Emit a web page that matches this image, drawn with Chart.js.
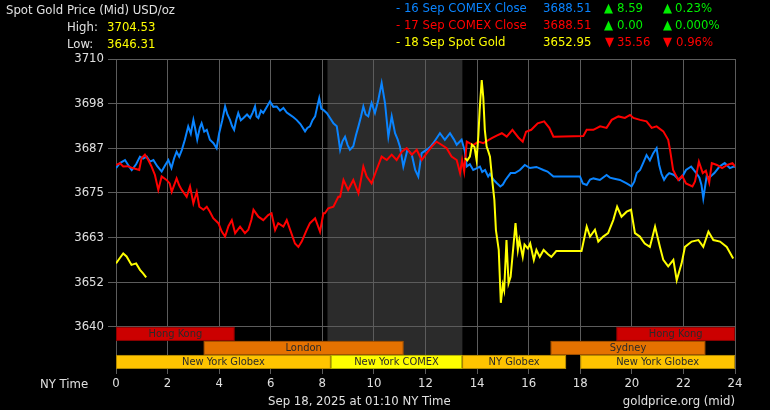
<!DOCTYPE html>
<html>
<head>
<meta charset="utf-8">
<script src="https://cdn.jsdelivr.net/npm/chart.js@4.4.1/dist/chart.umd.min.js"></script>
<style>
  html, body { margin: 0; padding: 0; background: #000; }
  #wrap { position: relative; width: 770px; height: 410px; overflow: hidden;
    font-family: "DejaVu Sans Condensed", "DejaVu Sans", sans-serif; font-size: 13px; color: #e0e0e0; }
  canvas { position: absolute; left: 0; top: 0; }
  .t { position: absolute; white-space: nowrap; line-height: 1; }
  .blue { color: #0a84ff; } .red { color: #ff0000; } .yel { color: #ffff00; } .grn { color: #00ee00; }
</style>
</head>
<body>
<div id="wrap">
  <canvas id="chart-gold" width="770" height="410"></canvas>
  <div class="t" style="left:6px;top:2.5px">Spot Gold Price (Mid) USD/oz</div>
  <div class="t" style="left:67px;top:19.5px">High:</div>
  <div class="t yel" style="left:107px;top:19.5px">3704.53</div>
  <div class="t" style="left:67px;top:36.5px">Low:</div>
  <div class="t yel" style="left:107px;top:36.5px">3646.31</div>

  <div class="t blue" style="left:396px;top:0.5px">- 16 Sep COMEX Close</div>
  <div class="t blue" style="left:543px;top:0.5px">3688.51</div>
  <div class="t grn" style="left:604px;top:0.5px">▲</div>
  <div class="t grn" style="left:617px;top:0.5px">8.59</div>
  <div class="t grn" style="left:663px;top:0.5px">▲</div>
  <div class="t grn" style="left:675px;top:0.5px">0.23%</div>

  <div class="t red" style="left:396px;top:17.5px">- 17 Sep COMEX Close</div>
  <div class="t red" style="left:543px;top:17.5px">3688.51</div>
  <div class="t grn" style="left:604px;top:17.5px">▲</div>
  <div class="t grn" style="left:617px;top:17.5px">0.00</div>
  <div class="t grn" style="left:663px;top:17.5px">▲</div>
  <div class="t grn" style="left:675px;top:17.5px">0.000%</div>

  <div class="t yel" style="left:396px;top:34.5px">- 18 Sep Spot Gold</div>
  <div class="t yel" style="left:543px;top:34.5px">3652.95</div>
  <div class="t red" style="left:605px;top:34.5px">▼</div>
  <div class="t red" style="left:617px;top:34.5px">35.56</div>
  <div class="t red" style="left:663px;top:34.5px">▼</div>
  <div class="t red" style="left:676px;top:34.5px">0.96%</div>

  <div class="t" style="left:40px;top:376.5px">NY Time</div>
  <div class="t" style="left:268px;top:393.5px">Sep 18, 2025 at 01:10 NY Time</div>
  <div class="t" style="right:35px;top:393.5px">goldprice.org (mid)</div>
</div>
<script>
// 16 Sep COMEX close series (blue)
const sep16Hours = [0, 0.15, 0.35, 0.5, 0.61, 0.78, 0.93, 1.05, 1.19, 1.32, 1.45, 1.6, 1.77, 1.9, 2.03, 2.15, 2.25, 2.35, 2.45, 2.55,
  2.67, 2.8, 2.9, 3.0, 3.08, 3.15, 3.25, 3.32, 3.42, 3.52, 3.64, 3.78, 3.9, 4.0, 4.12, 4.23, 4.32, 4.42, 4.5, 4.58,
  4.66, 4.74, 4.84, 4.94, 5.08, 5.2, 5.3, 5.39, 5.45, 5.52, 5.62, 5.71, 5.85, 5.97, 6.1, 6.23, 6.36, 6.49, 6.62, 6.75,
  6.88, 7.0, 7.15, 7.33, 7.42, 7.52, 7.62, 7.72, 7.8, 7.88, 7.96, 8.04, 8.17, 8.3, 8.43, 8.56, 8.62, 8.69, 8.78, 8.88,
  8.98, 9.07, 9.2, 9.3, 9.4, 9.5, 9.59, 9.68, 9.78, 9.85, 9.91, 10.04, 10.17, 10.3, 10.43, 10.56, 10.69, 10.82, 10.92, 11.01,
  11.14, 11.3, 11.47, 11.6, 11.72, 11.85, 12.05, 12.18, 12.3, 12.45, 12.56, 12.75, 12.95, 13.1, 13.21, 13.4, 13.52, 13.6, 13.72, 13.85,
  14.0, 14.11, 14.2, 14.31, 14.43, 14.5, 14.63, 14.76, 14.9, 15.0, 15.1, 15.3, 15.47, 15.66, 15.85, 16.05, 16.3, 16.57, 16.73, 16.96, 17.99,
  18.1, 18.25, 18.38, 18.51, 18.76, 19.02, 19.15, 19.28, 19.54, 19.8, 19.99, 20.1, 20.19, 20.32, 20.45, 20.57, 20.7, 20.83, 20.96, 21.06,
  21.15, 21.25, 21.35, 21.45, 21.64, 21.84, 22.0, 22.1, 22.3, 22.5, 22.62, 22.7, 22.77, 22.9, 23.0, 23.2, 23.4, 23.6, 23.8, 23.95, 24];
const sep16Prices = [3681.5, 3682.8, 3683.6, 3682.0, 3681.0, 3682.5, 3684.5, 3684.0, 3684.5, 3683.2, 3683.6, 3682.0, 3680.6, 3682.2, 3683.6, 3681.5, 3684.0, 3685.8, 3684.5, 3686.2,
  3688.9, 3692.4, 3690.5, 3694.1, 3691.5, 3688.9, 3692.0, 3693.2, 3691.0, 3691.5, 3688.9, 3688.0, 3686.7, 3690.6, 3694.0, 3697.6, 3695.5, 3694.1, 3692.5, 3691.5,
  3694.0, 3695.9, 3694.0, 3694.6, 3695.5, 3694.6, 3696.0, 3697.6, 3695.0, 3694.6, 3696.5, 3695.9, 3697.5, 3698.9, 3697.5, 3697.6, 3696.5, 3697.2, 3696.0, 3695.4,
  3694.8, 3694.1, 3693.0, 3691.1, 3692.0, 3692.4, 3694.0, 3695.0, 3697.5, 3699.8, 3697.0, 3696.7, 3695.9, 3694.6, 3693.2, 3692.4, 3689.7, 3686.3, 3688.5, 3689.7,
  3687.5, 3686.3, 3687.2, 3690.0, 3692.4, 3695.0, 3697.6, 3695.5, 3695.0, 3697.0, 3698.5, 3695.9, 3699.3, 3703.7, 3698.5, 3689.7, 3695.0, 3690.6, 3689.0, 3687.1,
  3681.9, 3686.3, 3685.0, 3681.0, 3679.3, 3685.4, 3686.3, 3687.0, 3688.0, 3689.5, 3690.6, 3688.9, 3690.6, 3689.0, 3687.6, 3688.9, 3686.0, 3681.9, 3682.5, 3681.0,
  3681.5, 3681.9, 3680.5, 3681.0, 3679.3, 3680.0, 3678.5, 3677.6, 3676.7, 3677.2, 3678.4, 3680.2, 3680.2, 3681.0, 3682.3, 3681.5, 3681.8, 3681.0, 3680.6, 3679.3, 3679.3,
  3677.5, 3677.1, 3678.5, 3678.8, 3678.4, 3679.7, 3679.0, 3678.8, 3678.4, 3677.5, 3676.7, 3678.0, 3680.2, 3681.0, 3683.0, 3684.9, 3683.5, 3685.4, 3686.7, 3682.3,
  3680.0, 3678.4, 3679.5, 3680.2, 3679.7, 3678.4, 3679.8, 3681.0, 3681.9, 3680.2, 3679.0, 3677.1, 3673.6, 3679.3, 3679.0, 3680.2, 3681.9, 3682.8, 3681.5, 3681.9, 3681.8];

// 17 Sep COMEX close series (red)
const sep17Hours = [0, 0.15, 0.28, 0.45, 0.65, 0.9, 0.99, 1.12, 1.25, 1.38, 1.51, 1.64, 1.77, 1.96, 2.08, 2.16, 2.35, 2.45, 2.55, 2.74,
  2.87, 3.0, 3.13, 3.23, 3.39, 3.52, 3.64, 3.77, 3.97, 4.1, 4.23, 4.36, 4.49, 4.62, 4.81, 5.0, 5.13, 5.25, 5.33, 5.52,
  5.71, 5.9, 6.03, 6.17, 6.29, 6.49, 6.62, 6.75, 6.94, 7.07, 7.2, 7.39, 7.52, 7.72, 7.91, 8.04, 8.1, 8.23, 8.43, 8.62,
  8.69, 8.82, 9.0, 9.2, 9.4, 9.59, 9.72, 9.91, 10.1, 10.3, 10.5, 10.69, 10.88, 11.08, 11.27, 11.47, 11.66, 11.85, 12.05, 12.24,
  12.43, 12.62, 12.82, 13.01, 13.21, 13.34, 13.42, 13.5, 13.6, 13.85, 14.05, 14.24, 14.57, 14.76, 14.96, 15.15, 15.37, 15.6, 15.77, 15.9, 16.1,
  16.35, 16.6, 16.8, 16.96, 18.12, 18.25, 18.51, 18.77, 19.02, 19.22, 19.48, 19.73, 19.93, 20.06, 20.32, 20.57, 20.77, 20.96, 21.22, 21.41,
  21.48, 21.6, 21.8, 21.95, 22.1, 22.35, 22.45, 22.6, 22.75, 22.87, 23.0, 23.1, 23.3, 23.5, 23.7, 23.9, 24];
const sep17Prices = [3682.3, 3682.8, 3681.9, 3682.0, 3681.5, 3681.0, 3684.1, 3685.0, 3683.6, 3681.9, 3679.7, 3675.8, 3679.3, 3678.4, 3677.5, 3675.3, 3678.8, 3677.0, 3675.8, 3674.0,
  3676.7, 3672.3, 3675.3, 3671.4, 3670.6, 3671.4, 3670.1, 3668.4, 3667.1, 3664.9, 3663.6, 3666.3, 3667.9, 3664.5, 3666.2, 3664.5, 3665.4, 3668.0, 3670.6, 3668.8,
  3667.9, 3669.2, 3669.7, 3665.3, 3667.1, 3666.2, 3667.9, 3665.4, 3661.8, 3660.9, 3662.3, 3665.3, 3667.1, 3668.4, 3664.9, 3669.7, 3669.7, 3671.0, 3671.4, 3674.0,
  3674.0, 3678.4, 3675.8, 3678.4, 3674.9, 3681.9, 3679.3, 3677.5, 3681.0, 3684.5, 3683.6, 3685.0, 3683.6, 3685.8, 3686.7, 3685.0, 3686.3, 3683.6, 3685.4, 3687.1,
  3688.4, 3687.6, 3686.7, 3684.5, 3683.6, 3680.2, 3683.6, 3680.6, 3688.4, 3687.5, 3688.4, 3688.0, 3689.3, 3690.0, 3690.6, 3689.7, 3691.5, 3689.5, 3688.4, 3691.0, 3691.5,
  3693.2, 3693.7, 3692.0, 3689.7, 3689.9, 3691.5, 3691.5, 3692.4, 3692.0, 3694.1, 3695.0, 3694.6, 3695.4, 3694.6, 3694.1, 3693.7, 3692.0, 3692.4, 3691.1, 3688.9,
  3686.3, 3681.0, 3678.4, 3679.5, 3677.5, 3676.7, 3678.0, 3683.2, 3680.2, 3680.8, 3677.7, 3682.8, 3682.3, 3681.5, 3682.3, 3682.8, 3681.9];

// 18 Sep spot series (yellow), null = gap
const sep18Hours = [0, 0.15, 0.28, 0.41, 0.6, 0.78, 0.93, 1.05, 1.17, 1.2,
  13.53, 13.62, 13.72, 13.8, 13.9, 13.98, 14.05, 14.1, 14.18, 14.24, 14.3, 14.37, 14.43, 14.5, 14.6, 14.67, 14.73, 14.84, 14.92, 15.0,
  15.05, 15.14, 15.22, 15.3, 15.37, 15.49, 15.58, 15.64, 15.77, 15.84, 15.97, 16.06, 16.2, 16.3, 16.43, 16.58, 16.75, 16.88, 17.07, 18.05,
  18.25, 18.38, 18.57, 18.7, 18.89, 19.08, 19.28, 19.43, 19.6, 19.8, 19.97, 20.12, 20.31,
  20.5, 20.7, 20.9, 21.09, 21.22, 21.41, 21.61, 21.74, 21.93, 22.06, 22.32, 22.58, 22.77, 22.97, 23.16, 23.42, 23.68, 23.93];
const sep18Prices = [3656.6, 3658.0, 3659.2, 3658.4, 3656.2, 3656.6, 3654.9, 3654.0, 3652.95, null,
  3684.1, 3683.5, 3684.5, 3687.6, 3687.0, 3683.6, 3690.0, 3696.7, 3704.5, 3700.0, 3691.5, 3687.1, 3686.0, 3684.5, 3677.5, 3673.2, 3665.3, 3660.1, 3646.3, 3651.0,
  3649.6, 3662.7, 3651.4, 3653.1, 3658.3, 3667.1, 3660.1, 3662.7, 3658.3, 3661.5, 3660.5, 3661.8, 3657.5, 3660.1, 3658.3, 3660.1, 3659.0, 3658.3, 3659.8, 3659.8,
  3666.2, 3663.6, 3665.4, 3662.3, 3663.6, 3664.5, 3667.9, 3671.4, 3668.8, 3670.1, 3670.6, 3664.5, 3663.6,
  3661.8, 3660.9, 3666.2, 3660.9, 3657.5, 3655.8, 3657.5, 3652.2, 3656.6, 3660.9, 3662.3, 3662.7, 3660.9, 3664.9, 3662.7, 3662.3, 3660.9, 3657.9];

const yTicks = [3640, 3651.67, 3663.33, 3675, 3686.67, 3698.33, 3710];

// market sessions: name, start hour, end hour, row, colour
const sessionNames = ["Hong Kong", "Hong Kong", "London", "Sydney", "New York Globex", "New York COMEX", "NY Globex", "New York Globex"];
const sessionStart = [0, 19.4, 3.4, 16.85, 0, 8.33, 13.42, 18];
const sessionEnd = [4.6, 24, 11.15, 22.85, 8.33, 13.42, 17.45, 24];
const sessionRow = [0, 0, 1, 1, 2, 2, 2, 2];
const sessionColor = ["#cc0000", "#cc0000", "#e57200", "#e57200", "#ffc400", "#ffff00", "#ffc400", "#ffc400"];
const comexShade = [8.2, 13.43];

function pairs(xs, ys) { return xs.map((x, i) => ({ x, y: ys[i] })); }

const sessionPlugin = {
  id: "sessions",
  beforeDraw(chart) {
    const { ctx, chartArea: a, scales: { x } } = chart;
    ctx.save();
    ctx.fillStyle = "#2b2b2b";
    const x0 = x.getPixelForValue(comexShade[0]), x1 = x.getPixelForValue(comexShade[1]);
    ctx.fillRect(x0, a.top, x1 - x0, a.bottom - a.top);
    ctx.restore();
  },
  beforeDatasetsDraw(chart) {
    const { ctx, chartArea: a, scales: { x, y } } = chart;
    const top = y.getPixelForValue(3640);
    const rowH = (a.bottom - top) / 3;
    ctx.save();
    ctx.font = "11px 'DejaVu Sans Condensed', 'DejaVu Sans', sans-serif";
    ctx.textAlign = "center";
    ctx.textBaseline = "middle";
    sessionNames.forEach((name, i) => {
      const x0 = x.getPixelForValue(sessionStart[i]), x1 = x.getPixelForValue(sessionEnd[i]);
      const y0 = top + sessionRow[i] * rowH;
      ctx.fillStyle = sessionColor[i];
      ctx.fillRect(x0, y0, x1 - x0, rowH);
      ctx.strokeStyle = "rgba(0,0,0,0.3)";
      ctx.lineWidth = 1;
      ctx.strokeRect(x0 + 0.5, y0 + 0.5, x1 - x0 - 1, rowH - 1);
      ctx.fillStyle = "#2a2a2a";
      ctx.fillText(name, (x0 + x1) / 2, y0 + rowH / 2 + 0.5);
    });
    ctx.restore();
  },
};

const lineStyle = { borderWidth: 2, pointRadius: 0, tension: 0, fill: false, spanGaps: false };

new Chart(document.getElementById("chart-gold"), {
  type: "line",
  data: {
    datasets: [
      { label: "18 Sep Spot Gold", data: pairs(sep18Hours, sep18Prices), borderColor: "#ffff00", ...lineStyle },
      { label: "17 Sep COMEX Close", data: pairs(sep17Hours, sep17Prices), borderColor: "#ff0000", ...lineStyle },
      { label: "16 Sep COMEX Close", data: pairs(sep16Hours, sep16Prices), borderColor: "#0a84ff", ...lineStyle },
    ],
  },
  options: {
    responsive: false, animation: false, devicePixelRatio: 1,
    layout: { padding: { left: 0, right: 35, top: 59, bottom: 0 } },
    plugins: { legend: { display: false }, tooltip: { enabled: false } },
    scales: {
      x: {
        type: "linear", min: 0, max: 24,
        border: { display: false },
        grid: { color: "#5c5c5c", tickLength: 5 },
        ticks: { stepSize: 2, color: "#e0e0e0", padding: 2, maxRotation: 0,
          font: { family: "'DejaVu Sans Condensed', 'DejaVu Sans', sans-serif", size: 13 } },
        afterFit(s) { s.height = 41; },
      },
      y: {
        min: 3629, max: 3710,
        border: { display: false },
        grid: { color: "#5c5c5c", tickLength: 8 },
        ticks: { color: "#e0e0e0", padding: 4, callback: (v) => Math.round(v),
          font: { family: "'DejaVu Sans Condensed', 'DejaVu Sans', sans-serif", size: 13 } },
        afterBuildTicks(s) { s.ticks = yTicks.map((v) => ({ value: v })); },
        afterFit(s) { s.width = 116; },
      },
    },
  },
  plugins: [sessionPlugin],
});
</script>
</body>
</html>
